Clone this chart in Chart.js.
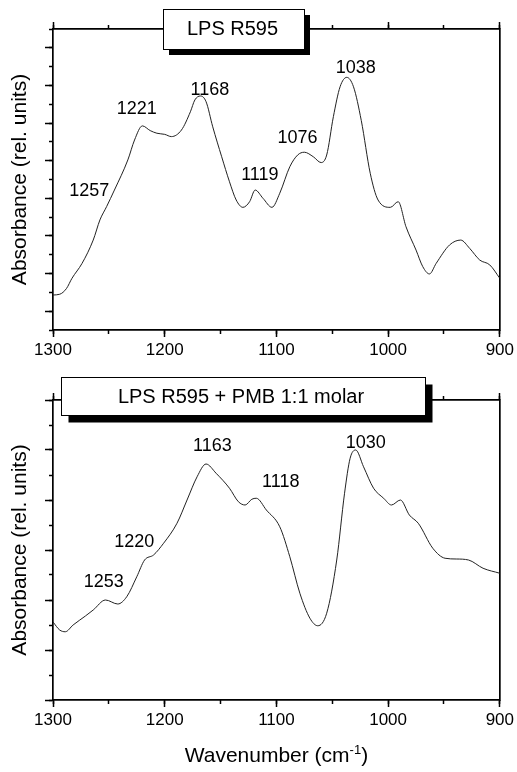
<!DOCTYPE html>
<html>
<head>
<meta charset="utf-8">
<script src="https://cdn.jsdelivr.net/npm/chart.js@4.4.0/dist/chart.umd.min.js"></script>
<style>
    body { margin: 0; background: #fff; }
    canvas { position: absolute; left: 0; }
    #chartTop { top: 0; }
    #chartBottom { top: 365px; }
</style>
</head>
<body>
<canvas id="chartTop" width="517" height="365"></canvas>
<canvas id="chartBottom" width="517" height="407"></canvas>
<script>
// LPS R595 spectrum (wavenumber cm-1 / absorbance, rel. units)
const topWave = [1300, 1294, 1288, 1283, 1274, 1264, 1258, 1252, 1245, 1233, 1227, 1220, 1213, 1207, 1200, 1194, 1185, 1177, 1173, 1168, 1163, 1157, 1149, 1142, 1136, 1130, 1124, 1119, 1112, 1104, 1097, 1088, 1081, 1075, 1067, 1060, 1055, 1049, 1043, 1037, 1031, 1024, 1016, 1009, 998, 991, 984, 975, 969, 963, 957, 945, 935, 927, 918, 909, 900];
const topAbs = [1.86, 1.9, 2.2, 2.75, 3.54, 4.78, 5.85, 6.56, 7.44, 9.04, 10.1, 10.85, 10.6, 10.46, 10.4, 10.28, 10.63, 11.6, 12.23, 12.44, 12.14, 10.8, 9.21, 7.88, 6.91, 6.52, 6.82, 7.44, 7.0, 6.52, 7.27, 8.68, 9.3, 9.45, 9.21, 8.9, 9.3, 11.34, 12.93, 13.43, 12.93, 11.13, 8.33, 6.91, 6.52, 6.82, 5.49, 4.25, 3.37, 2.98, 3.54, 4.52, 4.78, 4.34, 3.72, 3.46, 2.75];

// LPS R595 + PMB 1:1 molar
const botWave = [1300, 1294, 1289, 1282, 1271, 1264, 1253, 1242, 1234, 1225, 1218, 1210, 1201, 1189, 1180, 1171, 1163, 1154, 1142, 1134, 1128, 1122, 1118, 1109, 1097, 1088, 1079, 1070, 1063, 1055, 1046, 1039, 1034, 1029, 1022, 1013, 1004, 997, 989, 981, 973, 960, 949, 939, 928, 915, 900];
const botAbs = [3.12, 2.8, 2.73, 3.0, 3.36, 3.6, 4.0, 3.84, 4.13, 4.93, 5.6, 5.8, 6.27, 7.07, 8.0, 8.93, 9.44, 9.07, 8.47, 7.93, 7.8, 8.03, 8.07, 7.6, 6.93, 5.73, 4.27, 3.27, 2.97, 3.47, 5.6, 8.27, 9.67, 10.0, 9.33, 8.47, 8.07, 7.8, 8.0, 7.4, 7.07, 6.07, 5.67, 5.64, 5.6, 5.27, 5.07];

// peak labels: text and where it sits (wavenumber, absorbance of the baseline)
const topPeaks = ['1257', '1221', '1168', '1119', '1076', '1038'];
const topPeakX = [1267.6, 1225.1, 1159.5, 1114.8, 1081.2, 1029];
const topPeakY = [7.1, 11.48, 12.49, 7.97, 9.94, 13.65];

const botPeaks = ['1253', '1220', '1163', '1118', '1030'];
const botPeakX = [1254.5, 1227.3, 1157.3, 1096.1, 1020.1];
const botPeakY = [4.53, 6.13, 9.96, 8.52, 10.08];

const fontFam = "'Liberation Sans', Arial, sans-serif";

const overlay = {
    id: 'overlay',
    afterDraw(chart, args, opts) {
        const ctx = chart.ctx;
        const xs = chart.scales.x;
        const ys = chart.scales.y;
        ctx.save();
        // peak numbers
        ctx.fillStyle = '#000';
        ctx.font = '18px ' + fontFam;
        ctx.textAlign = 'center';
        ctx.textBaseline = 'alphabetic';
        for (let i = 0; i < opts.peaks.length; i++) {
            ctx.fillText(opts.peaks[i], xs.getPixelForValue(opts.peakX[i]), ys.getPixelForValue(opts.peakY[i]));
        }
        // sample name box with drop shadow
        const b = opts.box;
        ctx.fillStyle = '#000';
        ctx.fillRect(b.x + b.s, b.y + b.s, b.w, b.h);
        ctx.fillStyle = '#fff';
        ctx.fillRect(b.x, b.y, b.w, b.h);
        ctx.strokeStyle = '#000';
        ctx.lineWidth = 1;
        ctx.strokeRect(b.x + 0.5, b.y + 0.5, b.w, b.h);
        ctx.fillStyle = '#000';
        ctx.font = '20px ' + fontFam;
        ctx.fillText(b.text, b.x + b.w / 2 + b.dx, b.base);
        // x axis title with superscript
        if (opts.xTitle) {
            const big = '21px ' + fontFam;
            const small = '13px ' + fontFam;
            const t1 = 'Wavenumber (cm', t2 = '-1', t3 = ')';
            ctx.font = big;
            const w1 = ctx.measureText(t1).width;
            const w3 = ctx.measureText(t3).width;
            ctx.font = small;
            const w2 = ctx.measureText(t2).width;
            const cx = (chart.chartArea.left + chart.chartArea.right) / 2;
            let x0 = cx - (w1 + w2 + w3) / 2;
            const y0 = opts.xTitle;
            ctx.textAlign = 'left';
            ctx.font = big;
            ctx.fillText(t1, x0, y0);
            ctx.font = small;
            ctx.fillText(t2, x0 + w1, y0 - 8);
            ctx.font = big;
            ctx.fillText(t3, x0 + w1 + w2, y0);
        }
        ctx.restore();
    }
};

function makeChart(id, waves, abs, yMax, majorOdd, bottomH, topPad, extra) {
    const pts = [];
    for (let i = 0; i < waves.length; i++) {
        pts.push({ x: waves[i], y: abs[i] });
    }
    const axisCol = '#000';
    const noGrid = { drawOnChartArea: false, tickColor: axisCol, tickWidth: 1.5 };
    return new Chart(document.getElementById(id), {
        type: 'line',
        data: {
            datasets: [{
                data: pts,
                borderColor: '#222',
                borderWidth: 1,
                pointRadius: 0,
                fill: false,
                cubicInterpolationMode: 'monotone'
            }]
        },
        options: {
            responsive: false,
            animation: false,
            devicePixelRatio: 1,
            layout: { padding: { left: 0, right: 17, top: topPad, bottom: 0 } },
            plugins: {
                legend: { display: false },
                tooltip: { enabled: false },
                overlay: extra
            },
            scales: {
                x: {
                    type: 'linear', position: 'bottom', reverse: true, min: 900, max: 1300, weight: 1,
                    ticks: {
                        stepSize: 100, color: '#000', font: { size: 17, family: fontFam }, padding: 3, maxRotation: 0, autoSkip: false,
                        callback: function (value) { return String(value); }
                    },
                    grid: Object.assign({}, noGrid, { tickLength: 7 }),
                    border: { display: true, color: axisCol, width: 1.7 },
                    afterFit: function (s) { s.height = bottomH; }
                },
                xMinor: {
                    type: 'linear', position: 'bottom', reverse: true, min: 900, max: 1300, weight: 0,
                    ticks: { stepSize: 50, display: false },
                    grid: Object.assign({}, noGrid, { tickLength: 4 }),
                    border: { display: false },
                    afterFit: function (s) { s.height = 0; }
                },
                xTop: {
                    type: 'linear', position: 'top', reverse: true, min: 900, max: 1300, weight: 0,
                    ticks: { stepSize: 100, display: false },
                    grid: Object.assign({}, noGrid, { tickLength: 7 }),
                    border: { display: true, color: axisCol, width: 1.7 },
                    afterFit: function (s) { s.height = 0; }
                },
                xTopMinor: {
                    type: 'linear', position: 'top', reverse: true, min: 900, max: 1300, weight: 1,
                    ticks: { stepSize: 50, display: false },
                    grid: Object.assign({}, noGrid, { tickLength: 4 }),
                    border: { display: false },
                    afterFit: function (s) { s.height = 0; }
                },
                y: {
                    type: 'linear', position: 'left', min: 0, max: yMax, weight: 1,
                    ticks: { stepSize: 1, display: false, maxTicksLimit: 100 },
                    grid: {
                        drawOnChartArea: false, tickLength: 8, tickWidth: 1.5,
                        tickColor: function (c) {
                            const odd = Math.round(c.tick.value) % 2 === 1;
                            return odd === majorOdd ? axisCol : 'rgba(0,0,0,0)';
                        }
                    },
                    border: { display: true, color: axisCol, width: 1.7 },
                    title: { display: true, text: 'Absorbance (rel. units)', color: '#000', font: { size: 21, family: fontFam }, padding: { top: 8, bottom: 0 } },
                    afterFit: function (s) { s.width = 53; }
                },
                yMinor: {
                    type: 'linear', position: 'left', min: 0, max: yMax, weight: 0,
                    ticks: { stepSize: 1, display: false, maxTicksLimit: 100 },
                    grid: Object.assign({}, noGrid, { tickLength: 4 }),
                    border: { display: false },
                    afterFit: function (s) { s.width = 0; }
                },
                yRight: {
                    type: 'linear', position: 'right', min: 0, max: yMax,
                    ticks: { display: false },
                    grid: { display: false },
                    border: { display: true, color: axisCol, width: 1.7 },
                    afterFit: function (s) { s.width = 0; }
                }
            }
        },
        plugins: [overlay]
    });
}

const chartTop = makeChart('chartTop', topWave, topAbs, 16, true, 35, 29, {
    peaks: topPeaks, peakX: topPeakX, peakY: topPeakY,
    box: { x: 163, y: 9, w: 141, h: 40, s: 6, text: 'LPS R595', dx: -1, base: 34.7 },
    xTitle: null
});

const chartBottom = makeChart('chartBottom', botWave, botAbs, 12, false, 72, 35, {
    peaks: botPeaks, peakX: botPeakX, peakY: botPeakY,
    box: { x: 61, y: 12, w: 364, h: 38, s: 7.5, text: 'LPS R595 + PMB 1:1 molar', dx: -2, base: 38.3 },
    xTitle: 397
});
</script>
</body>
</html>
